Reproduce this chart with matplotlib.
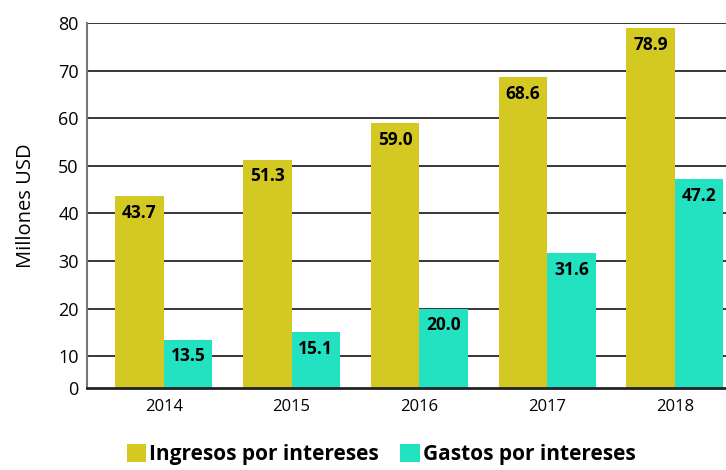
# Interest income vs interest expense, bar chart

import numpy as np
import matplotlib.pyplot as plt

plt.rcParams['font.family'] = ['Open Sans', 'DejaVu Sans']

# ==========================================
# DATA
# ==========================================

years = ["2014", "2015", "2016", "2017", "2018"]
ingresos = [43.7, 51.3, 59.0, 68.6, 78.9]
gastos = [13.5, 15.1, 20.0, 31.6, 47.2]
y_ticks = [10, 20, 30, 40, 50, 60, 70, 80]

YELLOW = "#d4c922"
TEAL = "#22e2c2"

# ==========================================
# PLOT
# ==========================================

fig = plt.figure(figsize=(7.26, 4.70), dpi=100)
ax = fig.add_axes([0.12, 0.175, 0.88, 0.776])

x = np.arange(len(years))
width = 0.38

b1 = ax.bar(x - width / 2, ingresos, width, color=YELLOW, label="Ingresos por intereses", zorder=3)
b2 = ax.bar(x + width / 2, gastos, width, color=TEAL, label="Gastos por intereses", zorder=3)

for bars in (b1, b2):
    for rect in bars:
        h = rect.get_height()
        ax.annotate(f"{h:.1f}", (rect.get_x() + rect.get_width() / 2, h),
                    xytext=(0, -12), textcoords="offset points",
                    ha="center", va="center", fontsize=12.5, fontweight="bold",
                    color="black", zorder=4)

# axis starts a bit above zero in the original, bottom tick still reads 0
bottom = 3.4
ax.set_ylim(bottom, 80)
ax.set_xlim(-0.6, 4.4)
ax.set_yticks([bottom] + y_ticks)
ax.set_yticklabels(["0"] + [str(t) for t in y_ticks], fontsize=13)
ax.set_xticks(x)
ax.set_xticklabels(years, fontsize=12)
ax.tick_params(axis="both", length=0, pad=8)
ax.tick_params(axis="y", pad=6)

for t in y_ticks:
    ax.axhline(t, color="black", lw=1.1, zorder=1)

for side in ("top", "right"):
    ax.spines[side].set_visible(False)
ax.spines["left"].set_color("#777777")
ax.spines["left"].set_linewidth(1.5)
ax.spines["bottom"].set_color("#222222")
ax.spines["bottom"].set_linewidth(2)
ax.spines["bottom"].set_zorder(5)

ax.set_ylabel("Millones USD", fontsize=14.5, labelpad=16)

leg = fig.legend(handles=[b1, b2], loc="lower center", bbox_to_anchor=(0.525, -0.03),
                 ncol=2, frameon=False, handlelength=0.95, handleheight=0.95,
                 handletextpad=0.15, columnspacing=1.0,
                 prop={"size": 15, "weight": "bold"})

fig.savefig("out.png", dpi=100)
